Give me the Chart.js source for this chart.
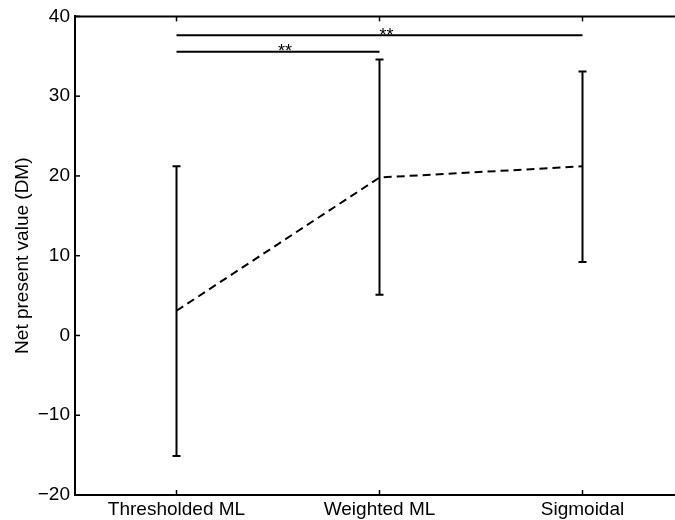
<!DOCTYPE html>
<html><head><meta charset="utf-8">
<script src="https://cdn.jsdelivr.net/npm/chart.js@4/dist/chart.umd.min.js"></script>
<style>html,body{margin:0;padding:0;background:#fff;overflow:hidden;width:675px;height:520px;} #c{display:block;}</style>
</head><body><canvas id="c" width="690" height="520"></canvas>
<script>
const categories = ['Thresholded ML', 'Weighted ML', 'Sigmoidal'];
const means = [3.1, 19.8, 21.2];
const upper = [21.2, 34.6, 33.1];
const lower = [-15.1, 5.1, 9.2];
const yTicks = [-20, -10, 0, 10, 20, 30, 40];
const sigPairs = [[1, 2], [1, 3]];
const sigLevels = [35.57, 37.63];
const sigLabels = ['**', '**'];
const yTitle = 'Net present value (DM)';

const FONT = '"Liberation Sans", Arial, Helvetica, sans-serif';

const datasets = [];
datasets.push({
  label: 'mean',
  data: categories.map((c, i) => ({x: i + 1, y: means[i]})),
  borderColor: '#000', borderWidth: 2, borderDash: [8, 5],
  pointRadius: 0, fill: false
});
categories.forEach((c, i) => {
  datasets.push({
    label: 'err' + i,
    data: [{x: i + 1, y: lower[i]}, {x: i + 1, y: upper[i]}],
    borderColor: '#000', borderWidth: 2,
    pointStyle: 'line', pointRadius: 4, pointBorderWidth: 2,
    pointBorderColor: '#000', fill: false
  });
});
sigPairs.forEach((p, k) => {
  datasets.push({
    label: 'sig' + k,
    data: [{x: p[0], y: sigLevels[k]}, {x: p[1], y: sigLevels[k]}],
    borderColor: '#000', borderWidth: 2, pointRadius: 0, fill: false
  });
});

const axisPlugin = {
  id: 'axisDecor',
  afterDatasetsDraw(chart) {
    const ctx = chart.ctx;
    const xs = chart.scales.x, ys = chart.scales.y;
    const a = chart.chartArea;
    ctx.save();
    ctx.strokeStyle = '#000';
    ctx.lineWidth = 2;
    ctx.beginPath();
    ctx.moveTo(a.left - 1, a.top);
    ctx.lineTo(a.right, a.top);
    ctx.stroke();
    ctx.lineWidth = 1.5;
    yTicks.forEach(v => {
      const y = ys.getPixelForValue(v);
      ctx.beginPath(); ctx.moveTo(a.left, y); ctx.lineTo(a.left + 5, y); ctx.stroke();
    });
    categories.forEach((c, i) => {
      const x = xs.getPixelForValue(i + 1);
      ctx.beginPath(); ctx.moveTo(x, a.bottom); ctx.lineTo(x, a.bottom - 5); ctx.stroke();
      ctx.beginPath(); ctx.moveTo(x, a.top); ctx.lineTo(x, a.top + 5); ctx.stroke();
    });
    ctx.fillStyle = '#000';
    ctx.font = '18px ' + FONT;
    ctx.textAlign = 'left';
    ctx.textBaseline = 'alphabetic';
    sigPairs.forEach((p, k) => {
      const x = (xs.getPixelForValue(p[0]) + xs.getPixelForValue(p[1])) / 2;
      const y = ys.getPixelForValue(sigLevels[k]) + 5.5;
      ctx.fillText(sigLabels[k], x, y);
    });
    ctx.restore();
  }
};

new Chart(document.getElementById('c'), {
  type: 'line',
  data: {datasets},
  options: {
    responsive: false,
    devicePixelRatio: 1,
    animation: false,
    layout: {padding: {top: 14, right: 6, bottom: 0, left: 0}},
    plugins: {legend: {display: false}, tooltip: {enabled: false}},
    scales: {
      x: {
        type: 'linear', min: 0.5, max: 3.5,
        grid: {display: false, drawTicks: false},
        border: {display: true, color: '#000', width: 2},
        afterBuildTicks: s => { s.ticks = categories.map((c, i) => ({value: i + 1})); },
        afterFit: s => { s.height = 25; },
        ticks: {
          autoSkip: false, maxRotation: 0, padding: 3, color: '#000',
          font: {family: FONT, size: 19},
          callback: v => categories[Math.round(v) - 1] || ''
        }
      },
      y: {
        type: 'linear', min: -20, max: 40,
        grid: {display: false, drawTicks: false},
        border: {display: true, color: '#000', width: 2},
        afterBuildTicks: s => { s.ticks = yTicks.map(v => ({value: v})); },
        afterFit: s => { s.width = 75; },
        ticks: {
          padding: 5, color: '#000',
          font: {family: FONT, size: 19},
          callback: v => String(v).replace('-', '\u2212')
        },
        title: {
          display: true, text: yTitle, color: '#000',
          font: {family: FONT, size: 19},
          padding: {top: 11, bottom: 0}
        }
      }
    }
  },
  plugins: [axisPlugin]
});
</script>
</body></html>
